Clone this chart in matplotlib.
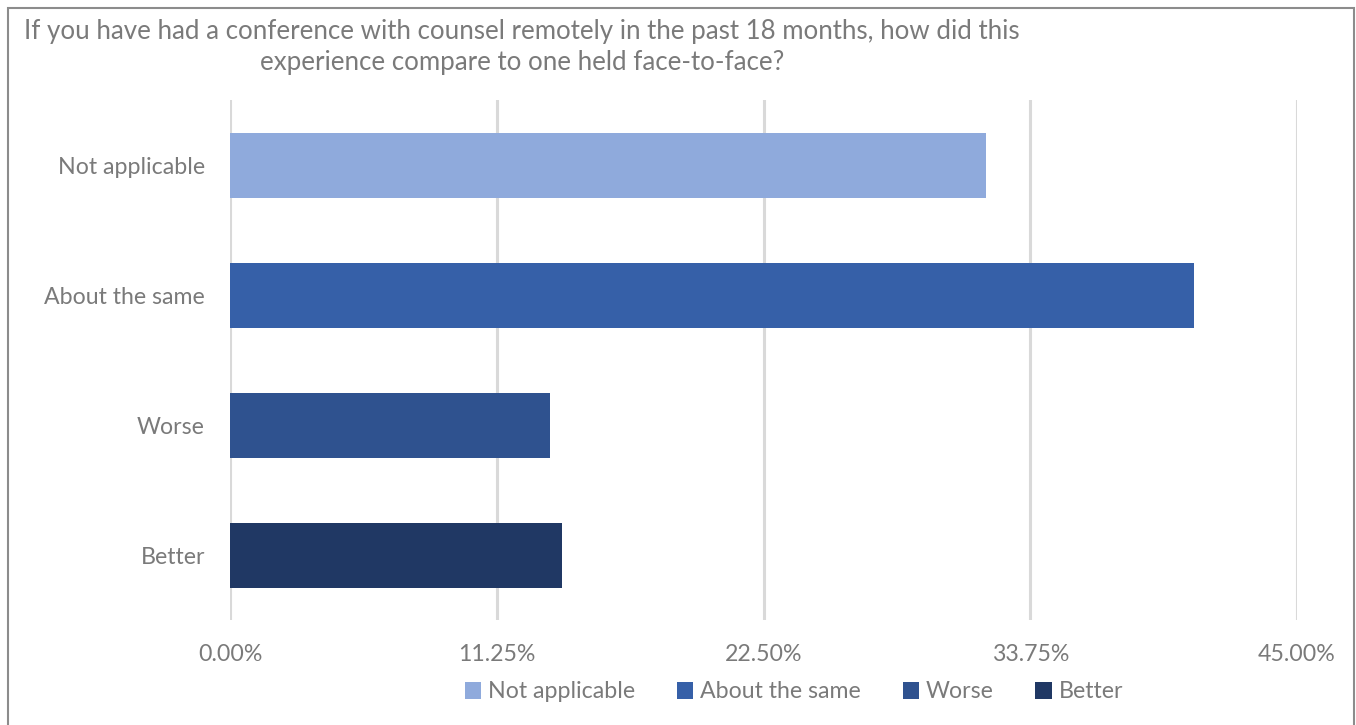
import matplotlib.pyplot as plt
from matplotlib.patches import Rectangle
from matplotlib.ticker import FixedLocator

plt.rcParams['font.family'] = ['Lato', 'DejaVu Sans']

# survey answers, top to bottom as drawn
categories = ['Not applicable', 'About the same', 'Worse', 'Better']
shares = [31.9, 40.65, 13.5, 14.0]
bar_colors = ['#8FAADC', '#3660A8', '#2F528F', '#203864']
tick_values = [0.0, 11.25, 22.5, 33.75, 45.0]
tick_labels = ['0.00%', '11.25%', '22.50%', '33.75%', '45.00%']
title = ('If you have had a conference with counsel remotely in the past 18 months, how did this\n'
         'experience compare to one held face-to-face?')

text_col = '#7a7a7a'

fig = plt.figure(figsize=(13.56, 7.25), dpi=100)
ax = fig.add_axes([230 / 1356, 1 - 620 / 725, (1297 - 230) / 1356, 520 / 725])

for i, (cat, val, col) in enumerate(zip(categories, shares, bar_colors)):
    ax.barh(i, val, height=0.5, color=col, label=cat, zorder=3)

ax.set_ylim(3.5, -0.5)
ax.set_xlim(0, 45)
ax.set_yticks(range(len(categories)))
ax.set_yticklabels(categories)
ax.xaxis.set_major_locator(FixedLocator(tick_values))
ax.set_xticklabels(tick_labels)
ax.tick_params(axis='both', length=0, labelsize=16.7, labelcolor=text_col)
ax.tick_params(axis='x', pad=17)
ax.tick_params(axis='y', pad=18)
ax.grid(axis='x', color='#d9d9d9', linewidth=2.2, zorder=0)
for s in ax.spines.values():
    s.set_visible(False)

fig.text(522 / 1356, 1 - 47 / 725, title, ha='center', va='center',
         fontsize=18.6, color=text_col, linespacing=1.3)

leg = fig.legend(loc='center', bbox_to_anchor=(794 / 1356, 1 - 692 / 725), ncol=4,
                 frameon=False, fontsize=16.7, handlelength=0.7, handleheight=0.7,
                 handletextpad=0.3, columnspacing=1.8)
for t in leg.get_texts():
    t.set_color(text_col)

# outer frame of the chart area
fig.add_artist(Rectangle((7.5 / 1356, -0.01), 1346 / 1356, 1 - 7.5 / 725 + 0.01,
                         transform=fig.transFigure, fill=False,
                         edgecolor='#8c8c8c', linewidth=1.5))

fig.savefig('out.png', dpi=100)
